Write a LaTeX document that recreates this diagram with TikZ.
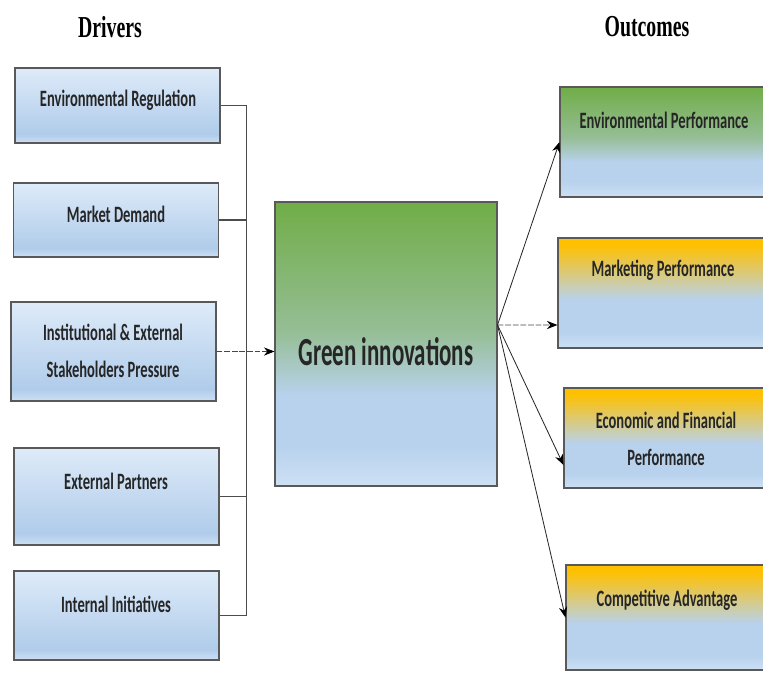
\documentclass[tikz,border=0pt]{standalone}
\usepackage{fontspec}
\setmainfont{Carlito}
\newfontfamily\headfont{Liberation Serif}
\usetikzlibrary{arrows.meta,positioning,calc}

\definecolor{drvTop}{RGB}{222,235,249}
\definecolor{drvBot}{RGB}{176,204,234}
\definecolor{drvLow}{RGB}{205,224,244}
\definecolor{leaf}{RGB}{112,173,71}
\definecolor{sage}{RGB}{150,190,150}
\definecolor{sky}{RGB}{184,210,237}
\definecolor{amber}{RGB}{255,192,0}

% fades: bottom -> top, central band 25bp..75bp
\pgfdeclareverticalshading{drvfade}{100bp}{color(0bp)=(drvLow); color(25bp)=(drvLow);
  color(31bp)=(drvBot); color(75bp)=(drvTop); color(100bp)=(drvTop)}
\pgfdeclareverticalshading{greenfade}{100bp}{color(0bp)=(drvLow); color(25bp)=(drvLow);
  color(32bp)=(sky); color(41bp)=(sky); color(52bp)=(sage); color(75bp)=(leaf); color(100bp)=(leaf)}
\pgfdeclareverticalshading{amberfade}{100bp}{color(0bp)=(drvLow); color(25bp)=(drvLow);
  color(32bp)=(sky); color(47bp)=(sky); color(72bp)=(amber); color(100bp)=(amber)}

\begin{document}
\begin{tikzpicture}[
    x=0.03cm,
    y=-0.03cm,
    driver/.style={
        rectangle,
        draw=gray!70!black,
        line width=0.9pt,
        shading=drvfade,
        minimum width=6.15cm,
        inner sep=0pt
    },
    outcome/.style={
        rectangle,
        draw=gray!70!black,
        line width=0.9pt,
        minimum width=6.2cm,
        minimum height=3.3cm,
        inner sep=0pt
    },
    core/.style={
        rectangle,
        draw=gray!70!black,
        line width=0.9pt,
        shading=greenfade,
        minimum width=6.66cm,
        minimum height=8.52cm
    },
    lbl/.style={
        font=\bfseries\fontsize{20}{31}\selectfont,
        text=black!85,
        align=center,
        xscale=0.62,
        transform shape
    },
    head/.style={
        font=\headfont\bfseries\fontsize{26}{30}\selectfont,
        xscale=0.65,
        transform shape
    },
    bus/.style={
        draw=gray!60!black,
        line width=1pt
    },
    link/.style={
        draw=gray!30!black,
        line width=0.7pt,
        -{Stealth[length=9pt,width=7pt,color=black]}
    },
    dlink/.style={
        link,
        draw=gray!55!black,
        line width=0.8pt,
        dash pattern=on 5pt off 1.5pt
    }
]
\clip (0,0) rectangle (763,673);

% --- Headers ---
\node[head] (drivers) at (110,27) {Drivers};
\node[head] (outcomes) at (647,27) {Outcomes};

% --- Drivers ---
\node[driver, minimum height=2.25cm] (reg) at (117.5,105.5) {};
\node[lbl] (reglbl) at (118,100) {Environmental Regulation};
\node[driver, minimum height=2.22cm] (demand) at (116,220) {};
\node[lbl] (demandlbl) at (116,214) {Market Demand};
\node[driver, minimum height=2.97cm] (press) at (113.5,351.5) {};
\node[lbl] (presslbl) at (113,351) {Institutional \& External\\Stakeholders Pressure};
\node[driver, minimum height=2.91cm] (partners) at (116.5,496.5) {};
\node[lbl] (partnerslbl) at (116,481) {External Partners};
\node[driver, minimum height=2.67cm] (init) at (116.5,615.5) {};
\node[lbl] (initlbl) at (116,604) {Internal Initiatives};

% --- Core ---
\node[core] (green) at (386,344) {};
\node[lbl, font=\bfseries\fontsize{34}{40}\selectfont, xscale=0.93] (greenlbl) at (386,352) {Green innovations};

% --- Outcomes ---
\node[outcome, shading=greenfade, minimum width=6.24cm] (envp) at (664,142) {};
\node[lbl] (envplbl) at (664,120) {Environmental Performance};
\node[outcome, shading=amberfade, minimum width=6.3cm] (mkt) at (663,293) {};
\node[lbl] (mktlbl) at (663,270) {Marketing Performance};
\node[outcome, shading=amberfade, minimum width=6.12cm, minimum height=3cm] (econ) at (666,438) {};
\node[lbl] (econlbl) at (666,439) {Economic and Financial\\Performance};
\node[outcome, shading=amberfade, minimum width=6.06cm, minimum height=3.15cm] (comp) at (667,617.5) {};
\node[lbl] (complbl) at (667,600) {Competitive Advantage};

% --- Driver bus ---
\coordinate[right=0.81cm of init.east] (jb);
\draw[bus] (reg.east) -| (jb) -- (init.east);
\draw[bus] (demand.east) -- (demand.east -| jb);
\draw[bus] (partners.east) -- (partners.east -| jb);
\draw[dlink] (press.east) -- (press.east -| green.west);

% --- Fan out to outcomes ---
\coordinate[above=0.57cm of green.east] (fan);
\draw[link] (fan) -- (envp.west);
\draw[dlink] (fan) -- ([yshift=-0.96cm]mkt.west);
\draw[link] (fan) -- ([yshift=-0.81cm]econ.west);
\draw[link] (fan) -- (comp.west);

\end{tikzpicture}
\end{document}
